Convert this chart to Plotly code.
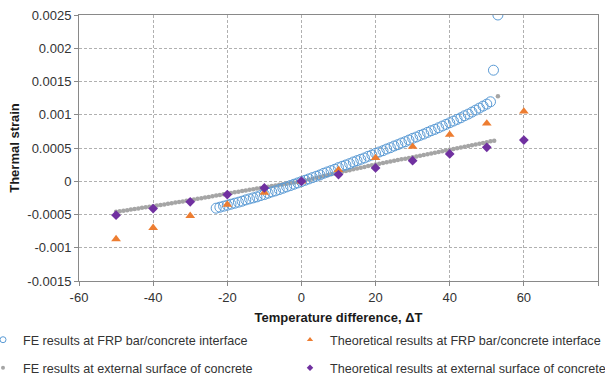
import plotly.graph_objects as go

# ---------------- data ----------------
# FE results at FRP bar/concrete interface (strain values in units of 1e-4)
fe_frp_dT = list(range(-23, 52)) + [51.8, 53.0]
fe_frp_e4 = [
    -4.05, -3.9, -3.75, -3.6, -3.45, -3.3, -3.15, -3.0, -2.8, -2.65,
    -2.5, -2.35, -2.15, -2.0, -1.8, -1.6, -1.45, -1.25, -1.05, -0.85,
    -0.65, -0.45, -0.25, -0.05, 0.15, 0.35, 0.55, 0.75, 0.95, 1.2,
    1.4, 1.6, 1.8, 2.05, 2.25, 2.45, 2.65, 2.9, 3.1, 3.3,
    3.5, 3.75, 3.95, 4.2, 4.4, 4.6, 4.85, 5.05, 5.3, 5.5,
    5.75, 5.95, 6.2, 6.45, 6.65, 6.9, 7.1, 7.35, 7.6, 7.8,
    8.05, 8.3, 8.55, 8.8, 9.05, 9.3, 9.55, 9.85, 10.1, 10.4,
    10.7, 11.0, 11.3, 11.6, 11.95,
    16.7, 25.0,
]

# FE results at external surface of concrete (units of 1e-4)
fe_ext_dT = list(range(-50, 53)) + [53.0]
fe_ext_e4 = [
    -4.6, -4.52, -4.43, -4.35, -4.26, -4.18, -4.09, -4.0, -3.92, -3.83,
    -3.75, -3.66, -3.57, -3.48, -3.39, -3.3, -3.21, -3.12, -3.03, -2.94,
    -2.85, -2.75, -2.65, -2.55, -2.45, -2.35, -2.25, -2.15, -2.05, -1.95,
    -1.85, -1.76, -1.66, -1.57, -1.47, -1.38, -1.28, -1.19, -1.09, -1.0,
    -0.9, -0.81, -0.72, -0.63, -0.54, -0.45, -0.36, -0.27, -0.18, -0.09,
    0.0, 0.13, 0.26, 0.39, 0.52, 0.65, 0.78, 0.91, 1.04, 1.17,
    1.3, 1.42, 1.54, 1.67, 1.79, 1.91, 2.03, 2.15, 2.28, 2.4,
    2.52, 2.63, 2.74, 2.85, 2.96, 3.07, 3.18, 3.29, 3.4, 3.51,
    3.62, 3.73, 3.84, 3.95, 4.06, 4.17, 4.28, 4.39, 4.5, 4.61,
    4.72, 4.84, 4.95, 5.07, 5.18, 5.3, 5.42, 5.53, 5.65, 5.77,
    5.88, 6.0, 6.1,
    12.8,
]

# Theoretical results
theo_dT = [-50, -40, -30, -20, -10, 0, 10, 20, 30, 40, 50, 60]
theo_frp = [-0.00087, -0.0007, -0.00052, -0.00035, -0.00017, 0.0,
            0.00017, 0.00035, 0.00052, 0.0007, 0.00087, 0.00105]
theo_ext = [-0.00051, -0.00041, -0.00031, -0.0002, -0.0001, 0.0,
            0.0001, 0.0002, 0.00031, 0.00041, 0.00051, 0.00062]

x_tickvals = [-60, -40, -20, 0, 20, 40, 60, 80]
x_ticktext = ["-60", "-40", "-20", "0", "20", "40", "60", "80"]
y_tickvals = [-0.0015, -0.001, -0.0005, 0, 0.0005, 0.001, 0.0015, 0.002, 0.0025]
y_ticktext = ["-0.0015", "-0.001", "-0.0005", "0", "0.0005", "0.001", "0.0015", "0.002", "0.0025"]

names = [
    "FE results at FRP bar/concrete interface",
    "Theoretical results at FRP bar/concrete interface",
    "FE results at external surface of concrete",
    "Theoretical results at external surface of concrete",
]

BLUE = "#5B9BD5"
ORANGE = "#ED7D31"
GRAY = "#A5A5A5"
PURPLE = "#7030A0"
FONT = "Liberation Sans, Arial, sans-serif"

fig = go.Figure()

# data traces
fig.add_trace(go.Scatter(
    x=fe_ext_dT, y=[v / 1e4 for v in fe_ext_e4], mode="markers",
    marker=dict(symbol="circle", size=4.5, color=GRAY),
    legendgroup="g3", showlegend=False))
fig.add_trace(go.Scatter(
    x=fe_frp_dT, y=[v / 1e4 for v in fe_frp_e4], mode="markers",
    marker=dict(symbol="circle-open", size=10, color=BLUE, line=dict(width=1)),
    legendgroup="g1", showlegend=False))
fig.add_trace(go.Scatter(
    x=theo_dT, y=theo_frp, mode="markers",
    marker=dict(symbol="triangle-up", size=8.5, color=ORANGE),
    legendgroup="g2", showlegend=False))
fig.add_trace(go.Scatter(
    x=theo_dT, y=theo_ext, mode="markers",
    marker=dict(symbol="diamond", size=7.5, color=PURPLE),
    legendgroup="g4", showlegend=False))

# legend entries: one legend per entry (2 rows x 2 columns below the plot)
leg_styles = [
    dict(symbol="circle-open", size=6, color=BLUE, line=dict(width=1)),
    dict(symbol="triangle-up", size=5.5, color=ORANGE),
    dict(symbol="circle", size=4, color=GRAY),
    dict(symbol="diamond", size=5, color=PURPLE),
]
leg_ids = ["legend", "legend2", "legend3", "legend4"]
groups = ["g1", "g2", "g3", "g4"]
for nm, st, lid, g in zip(names, leg_styles, leg_ids, groups):
    fig.add_trace(go.Scatter(x=[None], y=[None], mode="markers", name=nm,
                             marker=st, legend=lid, legendgroup=g, showlegend=True))

grid = dict(showgrid=True, gridcolor="#B0B0B0", gridwidth=1, griddash="3px,2px",
            zeroline=False, showline=True, linecolor="#898989", linewidth=1, mirror=True,
            ticks="outside", ticklen=4, tickcolor="#898989",
            tickfont=dict(family=FONT, size=13, color="#333333"))

fig.update_xaxes(range=[-60, 80], tickvals=x_tickvals, ticktext=x_ticktext,
                 title=dict(text="<b>Temperature difference, ΔT</b>",
                            font=dict(family=FONT, size=13, color="#1a1a1a"), standoff=10),
                 **grid)
fig.update_yaxes(range=[-0.0015, 0.0025], tickvals=y_tickvals, ticktext=y_ticktext,
                 title=dict(text="<b>Thermal strain</b>",
                            font=dict(family=FONT, size=13, color="#1a1a1a"), standoff=4),
                 **grid)

legfont = dict(family=FONT, size=12.6, color="#333333")
PLOT_L, PLOT_W = 79, 519
col_x = [(-17 - PLOT_L) / PLOT_W, (290 - PLOT_L) / PLOT_W]
row_y = [1 - 340 / 377, 1 - 368 / 377]
positions = [(col_x[0], row_y[0]), (col_x[1], row_y[0]), (col_x[0], row_y[1]), (col_x[1], row_y[1])]
leg_layout = {}
for lid, (lx, ly) in zip(leg_ids, positions):
    leg_layout[lid] = dict(orientation="h", xref="paper", yref="container",
                           x=lx, xanchor="left", y=ly, yanchor="middle",
                           font=legfont, bgcolor="rgba(0,0,0,0)")

fig.update_layout(
    width=605, height=377,
    margin=dict(l=PLOT_L, r=7, t=15, b=96, autoexpand=False),
    plot_bgcolor="white", paper_bgcolor="white",
    font=dict(family=FONT),
    **leg_layout,
)

fig.write_html("out.html")
